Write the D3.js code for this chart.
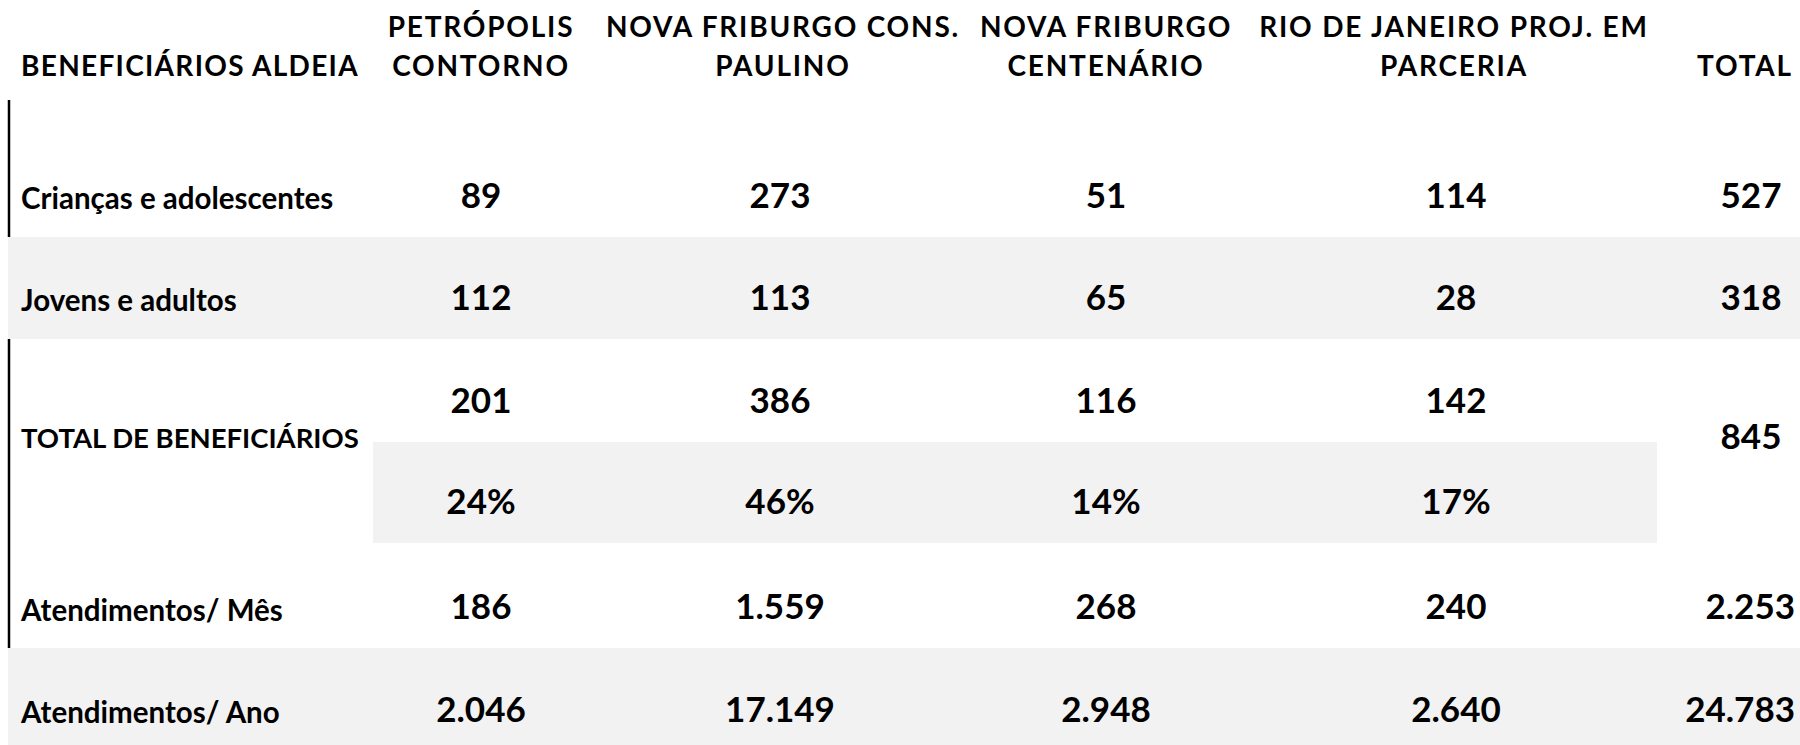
<!DOCTYPE html>
<html>
<head>
<meta charset="utf-8">
<script src="https://cdn.jsdelivr.net/npm/d3@7"></script>
<style>
  html, body { margin: 0; padding: 0; background: #fff; }
  svg { display: block; font-family: Lato, "Open Sans", sans-serif; font-weight: 700; }
</style>
</head>
<body>
<div id="chart"></div>
<script>
// header lines for each column
const headerTitle = "BENEFICIÁRIOS ALDEIA";
const columns = ["petropolis", "consPaulino", "centenario", "rio", "total"];
const headerLines = [
  ["PETRÓPOLIS", "CONTORNO"],
  ["NOVA FRIBURGO CONS.", "PAULINO"],
  ["NOVA FRIBURGO", "CENTENÁRIO"],
  ["RIO DE JANEIRO PROJ. EM", "PARCERIA"],
  ["TOTAL"]
];

const rowLabels = ["Crianças e adolescentes", "Jovens e adultos", "TOTAL DE BENEFICIÁRIOS", "Atendimentos/ Mês", "Atendimentos/ Ano"];

const criancas = [89, 273, 51, 114, 527];
const jovens = [112, 113, 65, 28, 318];
const totalBenef = [201, 386, 116, 142, 845];
const shares = [24, 46, 14, 17];
const porMes = [186, 1559, 268, 240, 2253];
const porAno = [2046, 17149, 2948, 2640, 24783];

const width = 1800, height = 745;

const ptBR = d3.formatLocale({decimal: ",", thousands: ".", grouping: [3], currency: ["R$", ""]});
const fmt = ptBR.format(",d");

// column centres (values and headings)
const x = d3.scaleOrdinal().domain(columns).range([481, 780, 1106, 1456, 1751]);
const xHead = d3.scaleOrdinal().domain(columns).range([481, 783, 1106, 1454, 1745]);

// row bands: [top, bottom]
const rowKeys = ["criancas", "jovens", "total", "share", "mes", "ano"];
const band = d3.scaleOrdinal().domain(rowKeys)
  .range([[100, 237], [237, 339], [339, 442], [442, 543], [543, 648], [648, 751]]);

const svg = d3.select("#chart").append("svg")
  .attr("width", width)
  .attr("height", height);

svg.append("rect").attr("width", width).attr("height", height).attr("fill", "#fff");

const grey = "#f2f2f2";
// shaded rows
svg.append("rect").attr("x", 8).attr("y", band("jovens")[0]).attr("width", width - 8)
  .attr("height", band("jovens")[1] - band("jovens")[0]).attr("fill", grey);
svg.append("rect").attr("x", 373).attr("y", band("share")[0]).attr("width", 1657 - 373)
  .attr("height", band("share")[1] - band("share")[0]).attr("fill", grey);
svg.append("rect").attr("x", 8).attr("y", band("ano")[0]).attr("width", width - 8)
  .attr("height", band("ano")[1] - band("ano")[0]).attr("fill", grey);

// left rule segments
const rule = svg.append("g").attr("stroke", "#000").attr("stroke-width", 2.5);
rule.append("line").attr("x1", 9).attr("x2", 9).attr("y1", band("criancas")[0]).attr("y2", band("criancas")[1]);
rule.append("line").attr("x1", 9).attr("x2", 9).attr("y1", band("total")[0]).attr("y2", band("mes")[1]);

// header
const head = svg.append("g").attr("font-size", 28).attr("letter-spacing", "1.8px").attr("fill", "#000");
head.append("text").attr("x", 21).attr("y", 76).attr("letter-spacing", "1.3px").text(headerTitle);
columns.forEach((c, i) => {
  const lines = headerLines[i];
  const y0 = lines.length === 2 ? 37 : 76;
  lines.forEach((l, j) => {
    head.append("text")
      .attr("x", xHead(c))
      .attr("y", y0 + j * 39)
      .attr("text-anchor", "middle")
      .text(l);
  });
});

// row labels
const labelY = [199, 301, 438, 611, 713];
svg.append("g").attr("fill", "#000")
  .selectAll("text").data(rowLabels).join("text")
  .attr("x", 21)
  .attr("font-size", d => d === d.toUpperCase() ? 27.5 : 29.5)
  .attr("y", (d, i) => labelY[i] + 10)
  .text(d => d);

// numbers
const numSize = 35;
const numRows = [
  {key: "criancas", values: criancas.map(fmt)},
  {key: "jovens", values: jovens.map(fmt)},
  {key: "total", values: totalBenef.slice(0, 4).map(fmt)},
  {key: "share", values: shares.map(v => v + "%")},
  {key: "mes", values: porMes.map(fmt)},
  {key: "ano", values: porAno.map(fmt)}
];
const nums = svg.append("g").attr("font-size", numSize).attr("fill", "#000").attr("text-anchor", "middle");
numRows.forEach(r => {
  nums.selectAll(null).data(r.values).join("text")
    .attr("x", (d, i) => x(columns[i]))
    .attr("y", band(r.key)[1] - 42 + numSize * 0.36)
    .text(d => d);
});
// merged total cell
nums.append("text")
  .attr("x", x("total"))
  .attr("y", (band("total")[0] + band("share")[1]) / 2 - 5 + numSize * 0.36)
  .text(fmt(totalBenef[4]));

// keep wide totals inside the page
nums.selectAll("text").each(function() {
  const b = this.getBBox();
  const over = b.x + b.width - (width - 5);
  if (over > 0) d3.select(this).attr("x", +d3.select(this).attr("x") - over);
});
</script>
</body>
</html>
